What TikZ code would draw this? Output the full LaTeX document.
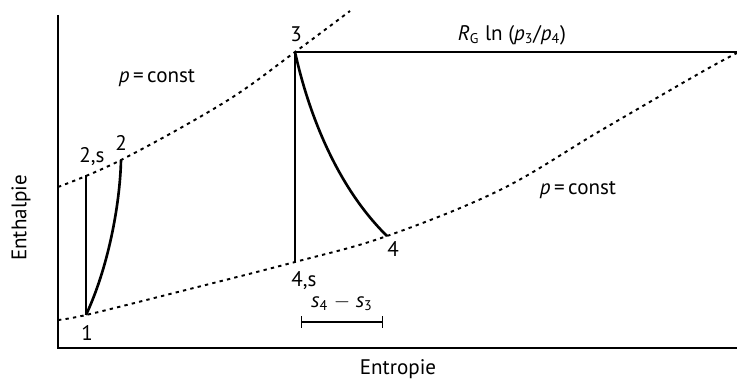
\documentclass[tikz,border=0pt]{standalone}
\usepackage{fontspec}
\setmainfont{PT Sans}

\begin{document}
\begin{tikzpicture}[x = 0.02cm, y = -0.02cm, font = \fontsize{12}{14}\selectfont,
  isobar/.style = {color = black, line width = 1.1pt, dash pattern = on 1.9pt off 2.4pt},
  label/.style = {inner sep = 1pt}]
\useasboundingbox (0,0) rectangle (737,381);
% Zustaende
\coordinate (Z1) at (86,315);
\coordinate (Z2s) at (86,175);
\coordinate (Z2) at (121,160);
\coordinate (Z3) at (295,52);
\coordinate (Z4s) at (295,262);
\coordinate (Z4) at (387,236);
\coordinate (O) at (58,348);
\coordinate (Y) at (58,15);
\coordinate (X) at (737,348);
\coordinate (R) at (737,52);
% Achsen
\draw [color = black, line width = .6pt] (Y) -- (O) -- (X);
% Isobaren
\draw [isobar] plot [smooth, tension = .6] coordinates {(58,187) (Z2) (225,102) (Z3) (350,11)};
\draw [isobar] plot [smooth, tension = .6] coordinates {(58,320) (Z1) (170,294) (Z4s) (Z4) (500,190) (600,131) (700,73) (737,53)};
% Verdichtung und Expansion
\draw [color = black, line width = .7pt] (Z1) -- (Z2s);
\draw [color = black, line width = 1.5pt] (Z1) .. controls (108,268) and (120,205) .. (Z2);
\draw [color = black, line width = .9pt] (Z3) -- (Z4s);
\draw [color = black, line width = 1.5pt] (Z3) .. controls (310,120) and (340,190) .. (Z4);
\draw [color = black, line width = 1pt] (Z3) -- (R);
% Beschriftung
\node [label] (A) at (87,333) {1};
\node [label] (B) at (92,157) {2,s};
\node [label] (C) at (121,143) {2};
\node [label] (D) at (296,34) {3};
\node [label] (E) at (304,281) {4,s};
\node [label] (F) at (393,249) {4};
\node [label] (G) at (157,78) {\textit{p}\,=\,const};
\node [label] (H) at (578,190) {\textit{p}\,=\,const};
\node [label] (I) at (512,35) {\textit{R}\textsubscript{G} ln (\textit{p}\textsubscript{3}/\textit{p}\textsubscript{4})};
\node [label] (J) at (342,303) {\textit{s}\textsubscript{4} $-$ \textit{s}\textsubscript{3}};
\coordinate (K) at (301,322);
\coordinate (L) at (383,322);
\draw [color = black, line width = .7pt, |-|] (K) -- (L);
\node [label, rotate = 90] (M) at (21,218) {Enthalpie};
\node [label] (N) at (398,369) {Entropie};
\end{tikzpicture}
\end{document}
